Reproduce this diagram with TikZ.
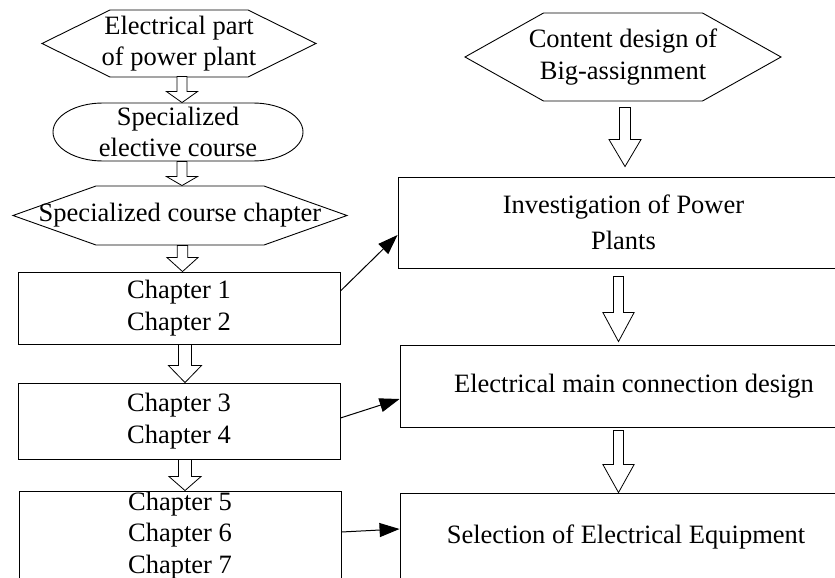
\documentclass[tikz,border=0pt]{standalone}
\usepackage{fontspec}
\setmainfont{Liberation Serif}
\usetikzlibrary{arrows.meta,calc}

\tikzset{
  txt/.style={align=center, inner sep=0pt},
  chapbox/.style={draw, minimum width=322pt, inner sep=0pt, align=center},
  taskbox/.style={draw, inner sep=0pt, align=center},
  link/.style={line width=1pt, -{Triangle[length=20pt,width=14pt]}},
  hollow/.style={line width=0.8pt, fill=white}
}

% hexagon round a text node: node, outer half width, top half width, half height
\newcommand{\hexframe}[4]{%
  \draw[shift={(#1.center)}] (-#2,0) -- (-#3,-#4) -- (#3,-#4) -- (#2,0) -- (#3,#4) -- (-#3,#4) -- cycle;}
% hollow block arrow: from, to, shaft half width, head half width, head length
\newcommand{\blockarrow}[5]{%
  \draw[hollow] let \p1=(#1), \p2=(#2) in
    (\x1-#3pt,\y1) -- (\x1+#3pt,\y1) -- (\x1+#3pt,\y2+#5pt) -- (\x1+#4pt,\y2+#5pt)
    -- (\x1,\y2) -- (\x1-#4pt,\y2+#5pt) -- (\x1-#3pt,\y2+#5pt) -- cycle;}

\begin{document}
\begin{tikzpicture}[x=1pt, y=-1pt, line width=0.9pt, font=\fontsize{26.5}{31.5}\selectfont]
  \useasboundingbox (0,0) rectangle (835,578);
  \clip (0,0) rectangle (835,578);

  % left column
  \node[txt, minimum height=67pt] (power) at (179,43.5) {Electrical part\\of power plant};
  \hexframe{power}{137}{69}{33.5}
  \node[txt, minimum height=58pt] (elective) at (178,132) {Specialized\\elective course};
  \draw[shift={(elective.center)}] (-75,-29) -- (75,-29)
    arc[start angle=90, end angle=-90, x radius=50pt, y radius=29pt] -- (-75,29)
    arc[start angle=270, end angle=90, x radius=50pt, y radius=29pt] -- cycle;
  \node[txt, minimum height=59pt] (course) at (180,215.5) {Specialized course chapter};
  \hexframe{course}{167}{84}{29.5}
  \node[chapbox, minimum height=72pt] (ch12) at (179,308) {Chapter 1\\Chapter 2};
  \node[chapbox, minimum height=76pt] (ch34) at (179,421) {Chapter 3\\Chapter 4};
  \node[chapbox, minimum height=89pt] (ch57) at (180,535.5) {Chapter 5\\Chapter 6\\Chapter 7};

  % right column
  \node[txt, minimum height=88pt] (content) at (623,57) {Content design of\\Big-assignment};
  \hexframe{content}{158}{79.5}{44}
  \node[taskbox, minimum width=451pt, minimum height=91pt] (invest) at (623.5,222.5) {Investigation of Power\\[4.5pt]Plants};
  \node[taskbox, minimum width=468pt, minimum height=82pt] (mainconn) at (634,386) {Electrical main connection design};
  \node[taskbox, minimum width=452pt, minimum height=88pt] (equip) at (626,537) {Selection of Electrical Equipment};

  % block arrows
  \blockarrow{[xshift=3pt,yshift=1pt]power.south}{elective.north}{5}{15.5}{11}
  \blockarrow{[xshift=4pt]elective.south}{course.north}{5}{15.5}{9}
  \blockarrow{[xshift=2.5pt]course.south}{ch12.north}{5.3}{15.5}{14}
  \blockarrow{[xshift=6pt]ch12.south}{ch34.north}{6.5}{16.5}{17}
  \blockarrow{[xshift=6pt]ch34.south}{ch57.north}{6.5}{16}{14}
  \blockarrow{[xshift=2pt,yshift=-6pt]content.south}{[yshift=10pt]invest.north}{5.5}{16}{27}
  \blockarrow{[xshift=-5pt,yshift=-8pt]invest.south}{[yshift=3pt]mainconn.north}{5}{15.6}{29}
  \blockarrow{[xshift=-15.5pt,yshift=-3pt]mainconn.south}{equip.north}{5}{15.6}{28}

  % links to the tasks
  \draw[link] ([yshift=17pt]ch12.east) -- ([yshift=-12.5pt]invest.west);
  \draw[link] ([yshift=3pt]ch34.east) -- ([yshift=-13pt]mainconn.west);
  \draw[link] ([yshift=3.5pt]ch57.east) -- ([yshift=8pt]equip.west);
\end{tikzpicture}
\end{document}
